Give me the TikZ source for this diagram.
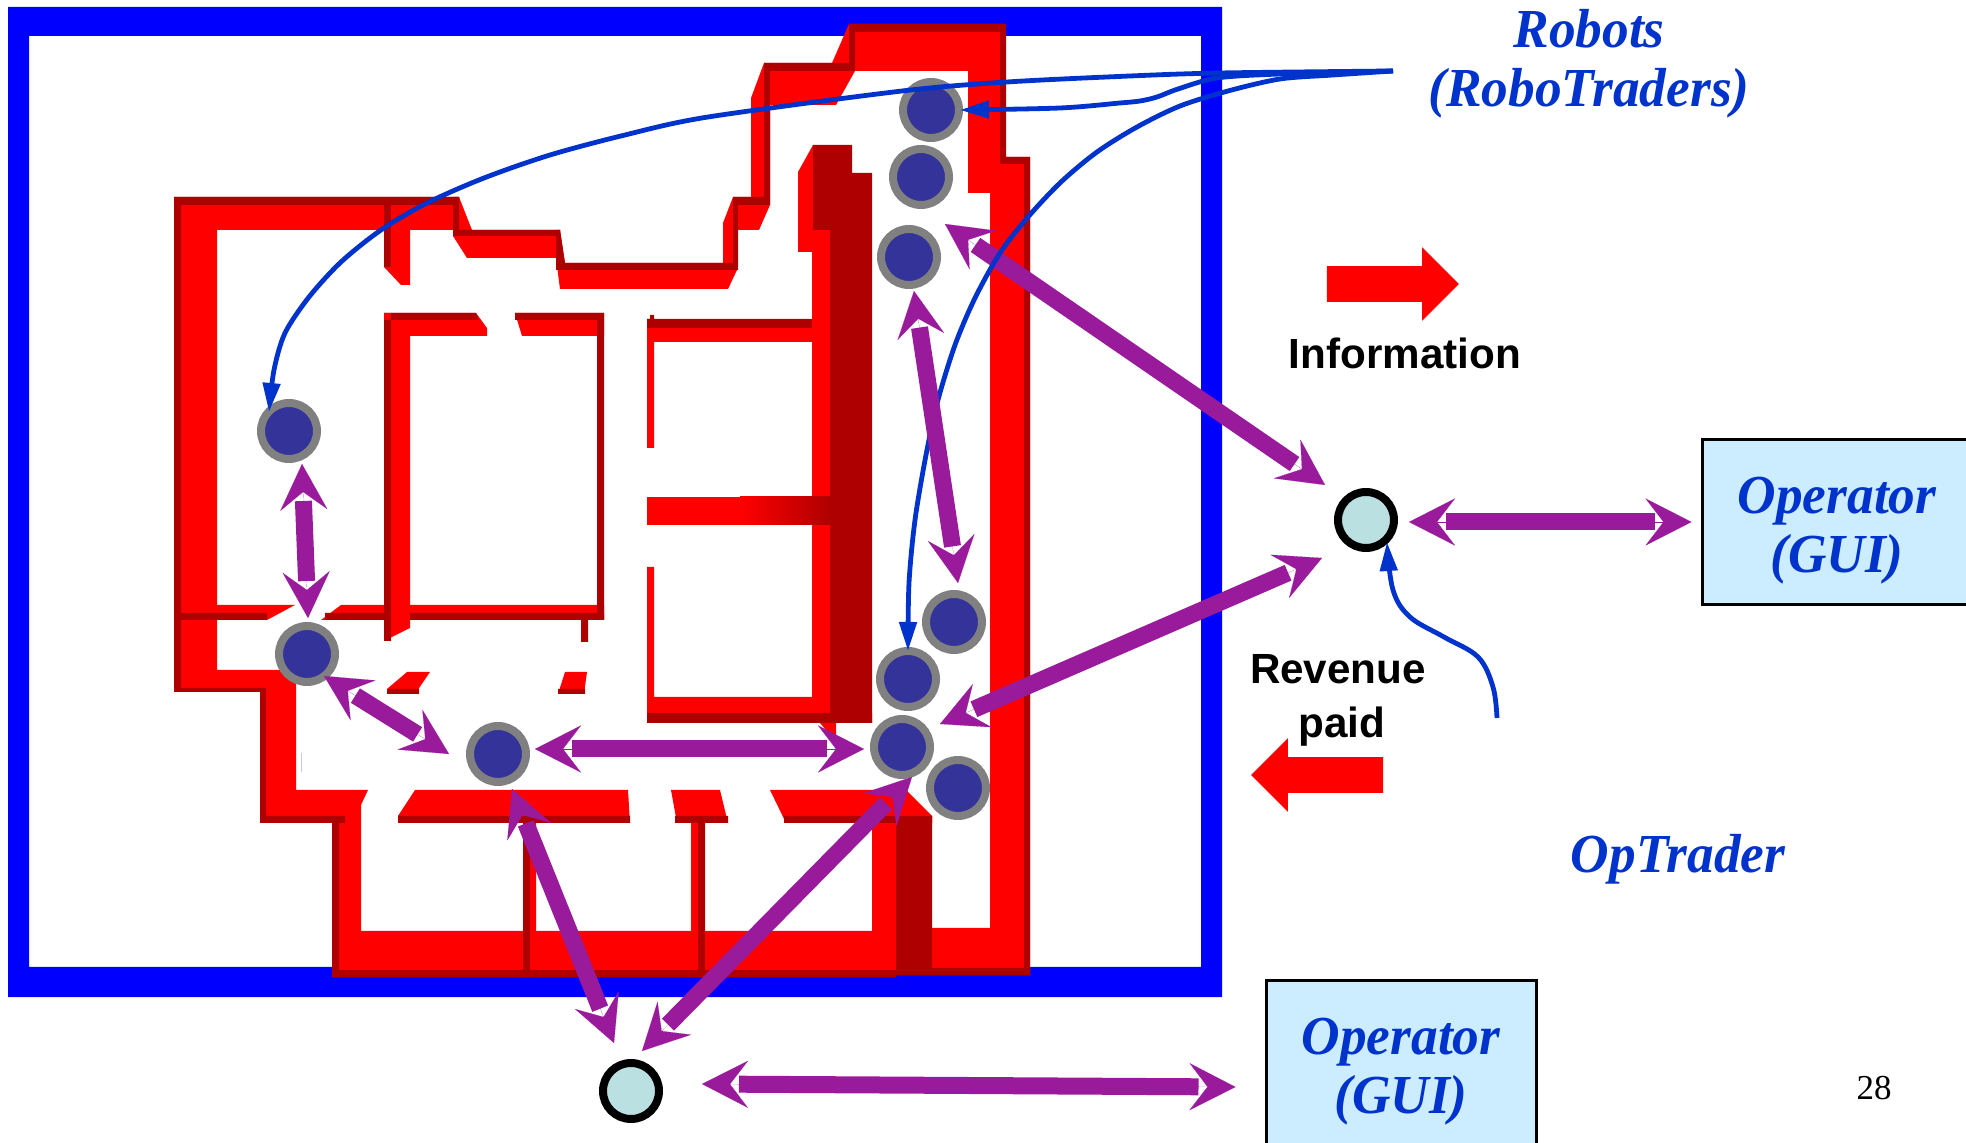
\documentclass[tikz,border=0pt]{standalone}
\usepackage{fontspec}
\setmainfont{Liberation Serif}
\setsansfont{Liberation Sans}
\newfontfamily\tradefont[FakeStretch=0.97]{Liberation Serif}
\usetikzlibrary{arrows.meta,calc,shapes.arrows}
\definecolor{framebl}{HTML}{0000FF}
\definecolor{walldk}{HTML}{AF0000}
\definecolor{linkpr}{HTML}{991B9C}
\definecolor{textbl}{HTML}{0033CC}
\definecolor{robotbl}{HTML}{333399}
\definecolor{opfill}{HTML}{BAE0E2}
\definecolor{guifill}{HTML}{CCECFF}
\tikzset{
  wall/.style={fill=red},
  shadow/.style={fill=walldk},
  robot/.style={circle, draw=gray, fill=robotbl, line width=4pt, inner sep=0pt, minimum size=28pt},
  operator/.style={robot, draw=black, fill=opfill},
  gui/.style={draw=black, fill=guifill, line width=1.5pt, minimum width=135pt, minimum height=82.5pt, inner sep=0pt},
  tradetxt/.style={font=\tradefont\bfseries\itshape\fontsize{27.5}{29.5}\selectfont, text=textbl, align=center},
  flowtxt/.style={font=\sffamily\bfseries\fontsize{21.1}{27}\selectfont, align=center},
  flowarrow/.style={single arrow, fill=red, minimum height=66pt, text height=17.5pt, text depth=0pt,
                    text width=0pt, single arrow head extend=9.5pt, inner sep=0pt},
  biarrow/.style={draw=linkpr, line width=.05pt,
                  {Stealth[length=23pt,width=23.5pt,inset=9pt]}-{Stealth[length=23pt,width=23.5pt,inset=9pt]},
                  postaction={draw, -, line width=8.5pt, shorten <=18.5pt, shorten >=18.5pt}},
  feed/.style={draw=textbl, line width=2.4pt, -{Triangle[length=14.5pt,width=8.5pt]}}
}
\begin{document}
\begin{tikzpicture}[x=.5pt,y=-.5pt]
  \useasboundingbox (0,0) rectangle (1966,1143);
  \fill[framebl, even odd rule] (8,7) rectangle (1222,997) (29,36) rectangle (1201,967);

  % west and south walls
  \fill[wall] (174,197) -- (459,197) -- (472,230) -- (217,230) -- (217,670) -- (296,670) -- (296,790)
    -- (368,790) -- (361,805) -- (361,931) -- (872,931) -- (872,816) -- (896,816) -- (896,977)
    -- (332,977) -- (332,823) -- (260,823) -- (260,692) -- (174,692) -- cycle;
  \fill[shadow] (174,197) rectangle (459,205) (174,197) rectangle (181,692) (174,688) rectangle (266,692)
    (260,688) rectangle (266,823) (260,816) rectangle (345,823) (332,816) rectangle (339,977)
    (332,970) rectangle (896,977);
  \fill[wall] (217,605) -- (295,605) -- (267,620) -- (217,620) -- cycle;
  \fill[wall] (341,605) -- (604,605) -- (604,620) -- (321,620) -- cycle;
  \fill[shadow] (174,613) rectangle (267,620) (325,613) rectangle (604,620);

  % north and east walls
  \fill[wall] (849,24) -- (1005,24) -- (1005,157) -- (1030,157) -- (1030,975) -- (896,975) -- (896,928)
    -- (990,928) -- (990,193) -- (968,193) -- (968,71) -- (855,71) -- (836,105) -- (770,105) -- (770,205)
    -- (759,230) -- (737,230) -- (737,270) -- (728,289) -- (560,289) -- (556,258) -- (467,258) -- (453,236)
    -- (453,230) -- (560,230) -- (565,263) -- (723,263) -- (723,223) -- (733,197) -- (751,197) -- (751,98)
    -- (764,63) -- (832,63) -- cycle;
  \fill[shadow] (852,24) rectangle (1005,32) (849,24) rectangle (855,71) (764,63) rectangle (855,71)
    (764,63) rectangle (770,205) (733,197) rectangle (770,205) (733,197) rectangle (738,270)
    (556,263) rectangle (738,270) (453,230) rectangle (560,236) (453,197) rectangle (459,236)
    (1000,24) rectangle (1006,157) (1000,157) rectangle (1030,164) (1024,157) rectangle (1030,975)
    (896,968) rectangle (1030,975) (896,816) rectangle (932,975);
  \fill[shadow] (556,230) -- (560,230) -- (565,263) -- (565,270) -- (556,270) -- cycle;
  \fill[wall] (391,230) -- (410,230) -- (410,285) -- (401,285) -- (384,267) -- cycle;
  \fill[shadow] (384,205) rectangle (391,267);

  % rooms
  \fill[wall] (384,313) -- (476,313) -- (487,328) -- (487,336) -- (410,336) -- (410,628) -- (384,641) -- cycle;
  \fill[shadow] (384,313) rectangle (391,641) (384,313) -- (476,313) -- (479,320) -- (384,320) -- cycle;
  \fill[wall] (515,313) -- (604,313) -- (604,336) -- (522,336) -- cycle;
  \fill[shadow] (515,313) rectangle (604,320) (597,313) rectangle (604,620) (581,620) rectangle (588,642);
  \fill[wall] (647,319) rectangle (654,448) (647,567) rectangle (654,713) (654,328) rectangle (830,342)
    (812,342) rectangle (830,697) (647,697) rectangle (830,713);
  \fill[shadow] (650,315) rectangle (654,328) (647,319) rectangle (830,328) (647,713) rectangle (872,723);
  \fill[wall] (647,497) rectangle (740,525);
  \shade[left color=red, right color=walldk] (740,497) rectangle (830,525);
  \fill[wall] (813,145) -- (798,172) -- (798,252) -- (812,252) -- (812,345) -- (830,345) -- (830,230) -- (813,230) -- cycle;
  \fill[shadow] (813,145) -- (852,145) -- (852,173) -- (872,173) -- (872,723) -- (830,723) -- (830,230) -- (813,230) -- cycle;
  \fill[wall] (820,723) -- (836,723) -- (836,740) -- (830,735) -- cycle;

  % south openings
  \fill[wall] (415,790) -- (628,790) -- (630,823) -- (398,823) -- (398,816) -- cycle;
  \fill[wall] (671,790) -- (720,790) -- (728,823) -- (677,823) -- cycle;
  \fill[wall] (770,790) -- (906,790) -- (932,816) -- (932,823) -- (786,823) -- cycle;
  \fill[shadow] (398,816) rectangle (630,823) (675,816) rectangle (728,823) (784,816) rectangle (932,823);
  \fill[wall] (530,823) rectangle (536,970) (691,823) rectangle (698,970);
  \fill[shadow] (523,823) rectangle (530,977) (698,823) rectangle (705,977);
  \fill[wall] (407,672) -- (430,672) -- (415,694) -- (387,694) -- (387,689) -- cycle;
  \fill[wall] (565,672) -- (587,672) -- (584,694) -- (558,694) -- cycle;
  \fill[shadow] (387,689) rectangle (419,694) (558,689) rectangle (585,694);
  \draw[gray!40, line width=.5pt] (301,753) -- (301,772);

  \node (r1) [robot] at (931,110) {};
  \node (r2) [robot] at (921,177) {};
  \node (r3) [robot] at (909,257) {};
  \node (r4) [robot] at (289,431) {};
  \node (r5) [robot] at (307,654) {};
  \node (r6) [robot] at (498,754) {};
  \node (r7) [robot] at (902,747) {};
  \node (r8) [robot] at (908,679) {};
  \node (r9) [robot] at (954,622) {};
  \node (r10) [robot] at (958,788) {};
  \node (opR) [operator] at (1366,520) {};
  \node (opB) [operator] at (631,1091) {};
  \node (guiR) [gui] at (1837,522) {};
  \node (guiB) [gui] at (1401,1063) {};
  \node (guiRtxt) [tradetxt] at (1837,531) {Operator\\(GUI)};
  \node (guiBtxt) [tradetxt] at (1401,1072) {Operator\\(GUI)};
  \coordinate (botsrc) at (1393,71);
  \coordinate (optrsrc) at (1497,718);

  \draw[biarrow] ($(r3)+(36,-33)$) -- ($(opR)+(-41,-35)$);

  \draw[feed] plot[smooth, tension=.5] coordinates {(botsrc) (1220,73) (1130,76) (1007,82) (902,91) (708,117) (625,135)
    (550,155) (484,178) (427,203) (381,230) (341,262) (309,297) (285,333) (274,370) ($(r4)+(-20,-19)$)};
  \draw[feed] plot[smooth, tension=.5] coordinates {(botsrc) (1280,74) (1217,78) (1178,89) (1157,97) (1140,101) (1120,103)
    (1060,108) ($(r1)+(29,0)$)};
  \draw[feed] plot[smooth, tension=.5] coordinates {(botsrc) (1333,75) (1280,79) (1228,91) (1180,106) (1137,127) (1097,152)
    (1061,182) (1028,217) (1000,253) (975,298) (955,345) (938,400) (926,455) (915,520) (909,583) ($(r8)+(0,-28)$)};
  \draw[feed] plot[smooth, tension=.6] coordinates {(optrsrc) (1493,687) (1478,657) (1444,637) (1410,617) (1393,590)
    ($(opR)+(21,22)$)};

  \draw[biarrow] ($(r4)+(13,33)$) -- ($(r5)+(1,-36)$);
  \draw[biarrow] ($(r5)+(17,22)$) -- ($(r6)+(-49,0)$);
  \draw[biarrow] ($(r6)+(37,-5)$) -- ($(r7)+(-38,2)$);
  \draw[biarrow] ($(r3)+(5,34)$) -- ($(r9)+(4,-39)$);
  \draw[biarrow] ($(r7)+(38,-23)$) -- ($(opR)+(-44,38)$);
  \draw[biarrow] ($(opR)+(43,2)$) -- ($(guiR.west)+(-9,0)$);
  \draw[biarrow] ($(r6)+(14,35)$) -- ($(opB)+(-17,-48)$);
  \draw[biarrow] ($(r7)+(10,30)$) -- ($(opB)+(11,-40)$);
  \draw[biarrow] ($(opB)+(71,-7)$) -- ($(guiB.west)+(-29,24)$);

  \node (robots) [tradetxt] at (1589,64) {Robots\\(RoboTraders)};
  \node (optrader) [tradetxt] at (1678,859) {OpTrader};
  \node (info) [flowtxt] at (1405,353) {Information};
  \node (revenue) [flowtxt] at (1338,700) {Revenue\\\hspace*{4pt}paid};
  \node (infoflow) [flowarrow] at (1384,284) {};
  \node (revflow) [flowarrow, shape border rotate=180] at (1326,775) {};
  \node (pagenum) [font=\fontsize{17.5}{20}\selectfont] at (1874,1088) {28};
\end{tikzpicture}
\end{document}
